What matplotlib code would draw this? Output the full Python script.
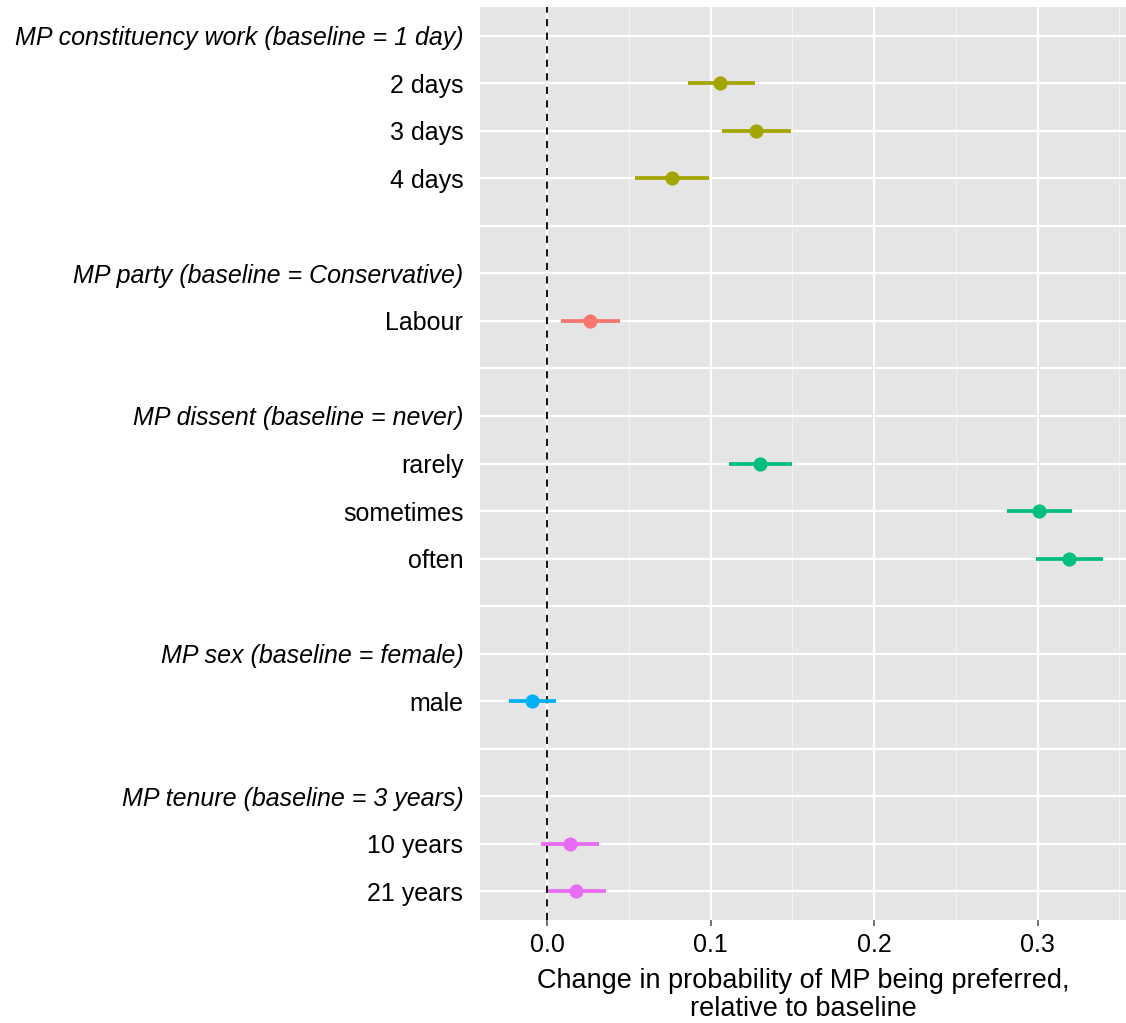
import numpy as np
import matplotlib
matplotlib.use('Agg')
import matplotlib.pyplot as plt
from matplotlib.ticker import MultipleLocator

plt.rcParams['font.family'] = ['Liberation Sans', 'DejaVu Sans']

# attribute groups, their baseline and the levels compared against it
groups = ['MP constituency work (baseline = 1 day)',
          'MP party (baseline = Conservative)',
          'MP dissent (baseline = never)',
          'MP sex (baseline = female)',
          'MP tenure (baseline = 3 years)']
group_colors = ['#A3A500', '#F8766D', '#00BF7D', '#00B0F6', '#E76BF3']

levels = [['2 days', '3 days', '4 days'],
          ['Labour'],
          ['rarely', 'sometimes', 'often'],
          ['male'],
          ['10 years', '21 years']]
estimates = [[0.106, 0.128, 0.0765],
             [0.026],
             [0.130, 0.301, 0.319],
             [-0.009],
             [0.014, 0.018]]
lower = [[0.086, 0.107, 0.054],
         [0.0085],
         [0.111, 0.281, 0.299],
         [-0.023],
         [-0.0035, 0.0005]]
upper = [[0.127, 0.149, 0.099],
         [0.0445],
         [0.150, 0.321, 0.340],
         [0.0055],
         [0.032, 0.036]]

# lay out rows top to bottom: header, levels, blank spacer
row_labels = []
row_italic = []
marks = []  # (row index, est, lo, hi, color)
for gi, g in enumerate(groups):
    row_labels.append(g)
    row_italic.append(True)
    for lv, est, lo, hi in zip(levels[gi], estimates[gi], lower[gi], upper[gi]):
        marks.append((len(row_labels), est, lo, hi, group_colors[gi]))
        row_labels.append(lv)
        row_italic.append(False)
    if gi < len(groups) - 1:
        row_labels.append('')
        row_italic.append(False)

n = len(row_labels)
ypos = n - 1 - np.arange(n)

fig = plt.figure(figsize=(11.26, 10.23), dpi=100)
ax = fig.add_axes([480 / 1126, 1 - 920 / 1023, 646 / 1126, 913 / 1023])
ax.set_facecolor('#E5E5E5')

for r, est, lo, hi, c in marks:
    y = ypos[r]
    ax.plot([lo, hi], [y, y], color=c, lw=2.7, solid_capstyle='butt', zorder=3)
    ax.plot(est, y, 'o', color=c, ms=10.2, mec='none', zorder=4)

ax.axvline(0, color='black', lw=1.3, ls=(0, (4, 3.5)), zorder=2)

ax.set_xlim(-0.041, 0.354)
ax.set_ylim(-0.6, n - 1 + 0.6)
ax.xaxis.set_minor_locator(MultipleLocator(0.05))
ax.set_xticks(np.arange(0, 0.31, 0.1))
ax.set_xticklabels(['0.0', '0.1', '0.2', '0.3'])
ax.set_yticks(ypos)
ax.set_yticklabels(row_labels)
for lab, it in zip(ax.get_yticklabels(), row_italic):
    if it:
        lab.set_style('italic')

ax.grid(which='major', color='white', lw=1.6, zorder=1)
ax.grid(which='minor', axis='x', color='#F2F2F2', lw=0.8, zorder=1)
ax.set_axisbelow(True)
for s in ax.spines.values():
    s.set_visible(False)

ax.tick_params(axis='x', which='major', length=4, width=1.1, color='#4D4D4D',
               labelsize=18, labelcolor='black', pad=5)
ax.tick_params(axis='x', which='minor', length=0)
ax.tick_params(axis='y', length=0, labelsize=18, labelcolor='black', pad=12)

ax.set_xlabel('Change in probability of MP being preferred,\nrelative to baseline',
              fontsize=19.5, labelpad=8, linespacing=1.12)

fig.savefig('out.png', dpi=100, facecolor='white')
